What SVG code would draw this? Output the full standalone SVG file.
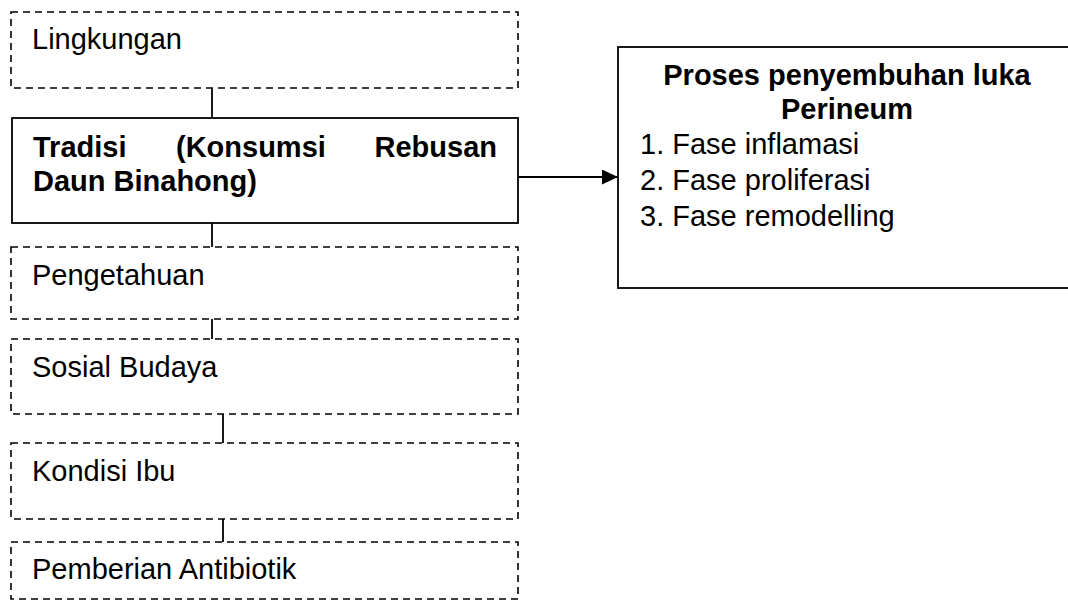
<svg xmlns="http://www.w3.org/2000/svg" width="1068" height="603" viewBox="0 0 1068 603">
<defs>
<style>
.dash{fill:#fff;stroke:#000;stroke-width:1.6;stroke-dasharray:7 5}
.solid{fill:#fff;stroke:#000;stroke-width:1.8}
.t{font-family:"Liberation Sans",Arial,sans-serif;font-size:29px;fill:#000}
.b{font-weight:bold}
.c{stroke:#000;stroke-width:1.8;fill:none}
</style>
<marker id="ah" markerWidth="16" markerHeight="15" refX="16" refY="7.5" orient="auto" markerUnits="userSpaceOnUse">
<path d="M0,0 L16,7.5 L0,15 Z" fill="#000"/>
</marker>
</defs>
<rect width="1068" height="603" fill="#fff"/>
<g id="connectors">
<line class="c" x1="212" y1="88" x2="212" y2="118"/>
<line class="c" x1="212" y1="223" x2="212" y2="247"/>
<line class="c" x1="212" y1="319" x2="212" y2="339"/>
<line class="c" x1="223" y1="414" x2="223" y2="443"/>
<line class="c" x1="223" y1="519" x2="223" y2="542"/>
<line class="c" x1="518" y1="177" x2="618" y2="177" marker-end="url(#ah)"/>
</g>
<g id="lingkungan">
<rect class="dash" x="11" y="12" width="507" height="76"/>
<text class="t" x="32" y="49">Lingkungan</text>
</g>
<g id="tradisi">
<rect class="solid" x="12" y="118" width="506" height="105"/>
<text class="t b" y="157"><tspan x="33">Tradisi</tspan><tspan x="176">(Konsumsi</tspan><tspan x="497" text-anchor="end">Rebusan</tspan></text>
<text class="t b" x="33" y="191">Daun Binahong)</text>
</g>
<g id="pengetahuan">
<rect class="dash" x="11" y="247" width="507" height="72"/>
<text class="t" x="32" y="285">Pengetahuan</text>
</g>
<g id="sosial">
<rect class="dash" x="11" y="339" width="507" height="75"/>
<text class="t" x="32" y="377">Sosial Budaya</text>
</g>
<g id="kondisi">
<rect class="dash" x="11" y="443" width="507" height="76"/>
<text class="t" x="32" y="481">Kondisi Ibu</text>
</g>
<g id="antibiotik">
<rect class="dash" x="11" y="542" width="507" height="57"/>
<text class="t" x="32" y="579">Pemberian Antibiotik</text>
</g>
<g id="proses">
<rect class="solid" x="618" y="47" width="470" height="241"/>
<text class="t b" x="847" y="85" text-anchor="middle">Proses penyembuhan luka</text>
<text class="t b" x="847" y="119" text-anchor="middle">Perineum</text>
<text class="t" x="640" y="154">1. Fase inflamasi</text>
<text class="t" x="640" y="190">2. Fase proliferasi</text>
<text class="t" x="640" y="226">3. Fase remodelling</text>
</g>
</svg>
